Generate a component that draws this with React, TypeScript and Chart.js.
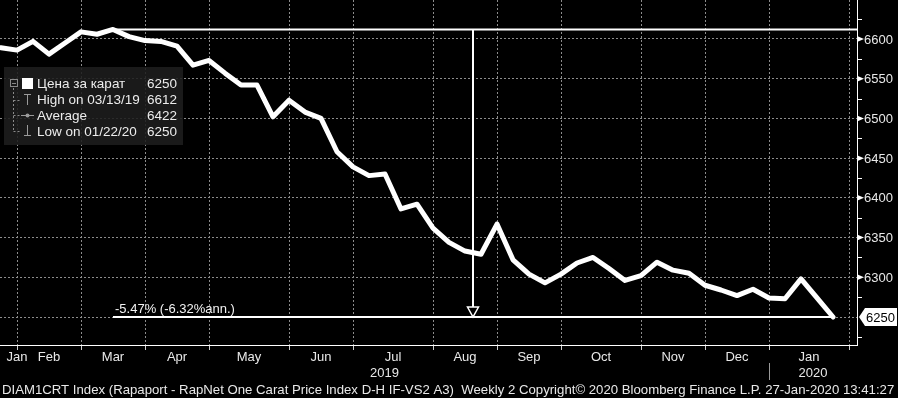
import React, { useEffect, useRef } from "react";
import { Chart, registerables } from "chart.js";

Chart.register(...registerables);

// Weekly observations (Wednesdays), week 0 = 23-Jan-2019, week 52 = 22-Jan-2020
const prices = [
  6589, 6586, 6597, 6581, 6595, 6609, 6606, 6612, 6603, 6598,
  6597, 6591, 6567, 6573, 6557, 6542, 6542, 6502, 6523, 6508,
  6500, 6458, 6439, 6428, 6430, 6386, 6392, 6362, 6344, 6333,
  6329, 6367, 6322, 6304, 6293, 6304, 6318, 6325, 6311, 6296,
  6302, 6319, 6309, 6305, 6290, 6284, 6277, 6285, 6274, 6273,
  6298, 6274, 6250,
];

// Month boundary weeks (last Wednesday of each month) and month labels
const monthGridWeeks = [1, 5, 9, 13, 18, 22, 27, 31, 35, 40, 44, 48, 53];
const monthLabels = ["Jan", "Feb", "Mar", "Apr", "May", "Jun", "Jul", "Aug", "Sep", "Oct", "Nov", "Dec", "Jan"];
const yearLabels = ["2019", "2020"];
const yearBreakWeek = 48;

const yTicks = [6250, 6300, 6350, 6400, 6450, 6500, 6550, 6600];
const yMinorTicks = [6225, 6275, 6325, 6375, 6425, 6475, 6525, 6575, 6625];

const highWeek = 7;
const highValue = 6612;
const lowWeek = 52;
const lowValue = 6250;
const arrowWeek = 29.5;
const changeText = "-5.47% (-6.32%ann.)";

const legendNames = ["Цена за карат", "High on 03/13/19", "Average", "Low on 01/22/20"];
const legendValues = ["6250", "6612", "6422", "6250"];
const lastLabel = "6250";

const footerText =
  "DIAM1CRT Index (Rapaport - RapNet One Carat Price Index D-H IF-VS2 A3)  Weekly 2 Copyright\u00A9 2020 Bloomberg Finance L.P. 27-Jan-2020 13:41:27";

const xMin = -0.0625;
const xMax = 53.5;
const yMin = 6214.75;
const yMax = 6649.1;

const FONT = '"Liberation Sans", Arial, sans-serif';
const f = (s: number) => `${s}px ${FONT}`;

const overlayPlugin = {
  id: "overlay",
  beforeDraw(chart: any) {
    const { ctx, width, height } = chart;
    ctx.save();
    ctx.fillStyle = "#000";
    ctx.fillRect(0, 0, width, height);
    ctx.restore();
  },
  afterDraw(chart: any) {
    const ctx: CanvasRenderingContext2D = chart.ctx;
    const xs = chart.scales.x;
    const ys = chart.scales.y;
    const area = chart.chartArea;
    ctx.save();

    // High / low lines and arrow
    const hx = xs.getPixelForValue(highWeek);
    const hy = ys.getPixelForValue(highValue);
    const lx = xs.getPixelForValue(lowWeek);
    const ly = ys.getPixelForValue(lowValue);
    ctx.strokeStyle = "#fff";
    ctx.lineWidth = 2;
    ctx.beginPath();
    ctx.moveTo(hx, hy);
    ctx.lineTo(area.right, hy);
    ctx.stroke();
    ctx.beginPath();
    ctx.moveTo(hx, ly);
    ctx.lineTo(lx, ly);
    ctx.stroke();
    const ax = Math.round(xs.getPixelForValue(arrowWeek));
    ctx.beginPath();
    ctx.moveTo(ax, hy);
    ctx.lineTo(ax, ly - 10);
    ctx.stroke();
    ctx.beginPath();
    ctx.moveTo(ax - 5.5, ly - 10);
    ctx.lineTo(ax + 5.5, ly - 10);
    ctx.lineTo(ax, ly);
    ctx.closePath();
    ctx.fillStyle = "#000";
    ctx.fill();
    ctx.lineWidth = 1.5;
    ctx.stroke();

    // change text
    ctx.fillStyle = "#f2f2f2";
    ctx.font = f(13);
    ctx.textAlign = "left";
    ctx.textBaseline = "alphabetic";
    ctx.fillText(changeText, hx + 2, ly - 4);

    // Right axis: minor ticks, arrows, labels
    const rx = area.right;
    ctx.strokeStyle = "#fff";
    ctx.lineWidth = 1;
    yMinorTicks.forEach((v) => {
      const y = Math.round(ys.getPixelForValue(v)) + 0.5;
      ctx.beginPath();
      ctx.moveTo(rx, y);
      ctx.lineTo(rx + 5, y);
      ctx.stroke();
    });
    ctx.font = f(13);
    ctx.textBaseline = "middle";
    yTicks.forEach((v) => {
      const y = ys.getPixelForValue(v);
      const label = String(v);
      if (label === lastLabel) return;
      ctx.fillStyle = "#fff";
      ctx.beginPath();
      ctx.moveTo(rx, y - 3);
      ctx.lineTo(rx + 7, y);
      ctx.lineTo(rx, y + 3);
      ctx.closePath();
      ctx.fill();
      ctx.fillStyle = "#e8e8e8";
      ctx.fillText(label, rx + 7, y + 1);
    });
    // last value box
    {
      const y = ys.getPixelForValue(prices[prices.length - 1]);
      ctx.fillStyle = "#fff";
      ctx.beginPath();
      ctx.moveTo(rx + 2, y);
      ctx.lineTo(rx + 8, y - 9);
      ctx.lineTo(897, y - 9);
      ctx.lineTo(897, y + 9);
      ctx.lineTo(rx + 8, y + 9);
      ctx.closePath();
      ctx.fill();
      ctx.fillStyle = "#000";
      ctx.fillText(lastLabel, rx + 9, y + 1);
    }

    // Month labels
    ctx.fillStyle = "#e8e8e8";
    ctx.textAlign = "center";
    ctx.textBaseline = "middle";
    ctx.font = f(13);
    monthLabels.forEach((m, i) => {
      const w = i === 0 ? monthGridWeeks[0] : (monthGridWeeks[i - 1] + monthGridWeeks[i]) / 2;
      ctx.fillText(m, xs.getPixelForValue(w), 357);
    });
    const breakX = xs.getPixelForValue(yearBreakWeek);
    ctx.fillText(yearLabels[0], (area.left + breakX) / 2, 373);
    ctx.fillText(yearLabels[1], (breakX + area.right) / 2, 373);
    ctx.strokeStyle = "#9a9a9a";
    ctx.beginPath();
    ctx.moveTo(Math.round(breakX) + 0.5, 363);
    ctx.lineTo(Math.round(breakX) + 0.5, 380);
    ctx.stroke();

    // Footer
    ctx.font = f(13);
    const w13 = ctx.measureText(footerText).width;
    const fs = (13 * 893) / w13;
    ctx.font = f(fs);
    ctx.textAlign = "left";
    ctx.fillStyle = "#e8e8e8";
    ctx.fillText(footerText, 2, 390);

    // Legend box
    ctx.fillStyle = "rgba(30,30,30,0.88)";
    ctx.fillRect(4, 67, 179, 78);
    const rows = [83.5, 99.5, 115, 131];
    // tree lines
    ctx.strokeStyle = "#8a8a8a";
    ctx.lineWidth = 1;
    ctx.setLineDash([2, 2]);
    ctx.beginPath();
    ctx.moveTo(13.5, 88);
    ctx.lineTo(13.5, rows[3]);
    rows.slice(1).forEach((ry) => {
      ctx.moveTo(13.5, Math.round(ry) + 0.5);
      ctx.lineTo(21, Math.round(ry) + 0.5);
    });
    ctx.stroke();
    ctx.setLineDash([]);
    // collapse box
    ctx.strokeRect(10.5, 79.5, 7, 7);
    ctx.beginPath();
    ctx.moveTo(12, 83.5);
    ctx.lineTo(16, 83.5);
    ctx.stroke();
    // series swatch
    ctx.fillStyle = "#fff";
    ctx.fillRect(22, 78, 11, 11);
    // high icon
    ctx.strokeStyle = "#9a9a9a";
    ctx.beginPath();
    ctx.moveTo(24, 94.5);
    ctx.lineTo(31, 94.5);
    ctx.moveTo(27.5, 94.5);
    ctx.lineTo(27.5, 105);
    // average icon
    ctx.moveTo(21, 115.5);
    ctx.lineTo(34, 115.5);
    // low icon
    ctx.moveTo(27.5, 125);
    ctx.lineTo(27.5, 135.5);
    ctx.moveTo(24, 135.5);
    ctx.lineTo(31, 135.5);
    ctx.stroke();
    ctx.fillStyle = "#9a9a9a";
    ctx.beginPath();
    ctx.arc(27.5, 115.5, 2, 0, Math.PI * 2);
    ctx.fill();
    // texts
    ctx.font = f(13.5);
    ctx.fillStyle = "#ececec";
    ctx.textBaseline = "middle";
    legendNames.forEach((n, i) => {
      ctx.textAlign = "left";
      ctx.fillText(n, 37, rows[i] + 1);
      ctx.textAlign = "right";
      ctx.fillText(legendValues[i], 177, rows[i] + 1);
    });

    ctx.restore();
  },
};

export default function App() {
  const ref = useRef<HTMLCanvasElement | null>(null);
  useEffect(() => {
    if (!ref.current) return;
    const chart = new Chart(ref.current, {
      type: "line",
      data: {
        datasets: [
          {
            data: prices.map((v, i) => ({ x: i, y: v })),
            borderColor: "#ffffff",
            borderWidth: 5,
            pointRadius: 0,
            tension: 0,
            fill: false,
            borderJoinStyle: "round",
            borderCapStyle: "round",
          },
        ],
      },
      options: {
        animation: false,
        responsive: false,
        maintainAspectRatio: false,
        events: [],
        layout: { padding: 0 },
        plugins: { legend: { display: false }, tooltip: { enabled: false } },
        scales: {
          x: {
            type: "linear",
            position: "bottom",
            min: xMin,
            max: xMax,
            afterBuildTicks: (s: any) => {
              s.ticks = monthGridWeeks.map((v) => ({ value: v }));
            },
            afterFit: (s: any) => {
              s.height = 53;
            },
            ticks: { display: false },
            grid: {
              color: "#8c8c8c",
              lineWidth: 1,
              drawTicks: true,
              tickLength: 5,
              tickColor: "#cfcfcf",
              tickBorderDash: [],
            },
            border: { display: true, color: "#ffffff", width: 1, dash: [2, 2] },
          },
          y: {
            type: "linear",
            position: "right",
            min: yMin,
            max: yMax,
            afterBuildTicks: (s: any) => {
              s.ticks = yTicks.map((v) => ({ value: v }));
            },
            afterFit: (s: any) => {
              s.width = 41;
            },
            ticks: { display: false },
            grid: { color: "#8c8c8c", lineWidth: 1, drawTicks: false },
            border: { display: true, color: "#ffffff", width: 1, dash: [2, 2] },
          },
        },
      },
      plugins: [overlayPlugin],
    } as any);
    return () => chart.destroy();
  }, []);
  return (
    <div style={{ position: "fixed", left: 0, top: 0, width: 898, height: 398, background: "#000" }}>
      <canvas ref={ref} width={898} height={398} style={{ display: "block", width: 898, height: 398 }} />
    </div>
  );
}
